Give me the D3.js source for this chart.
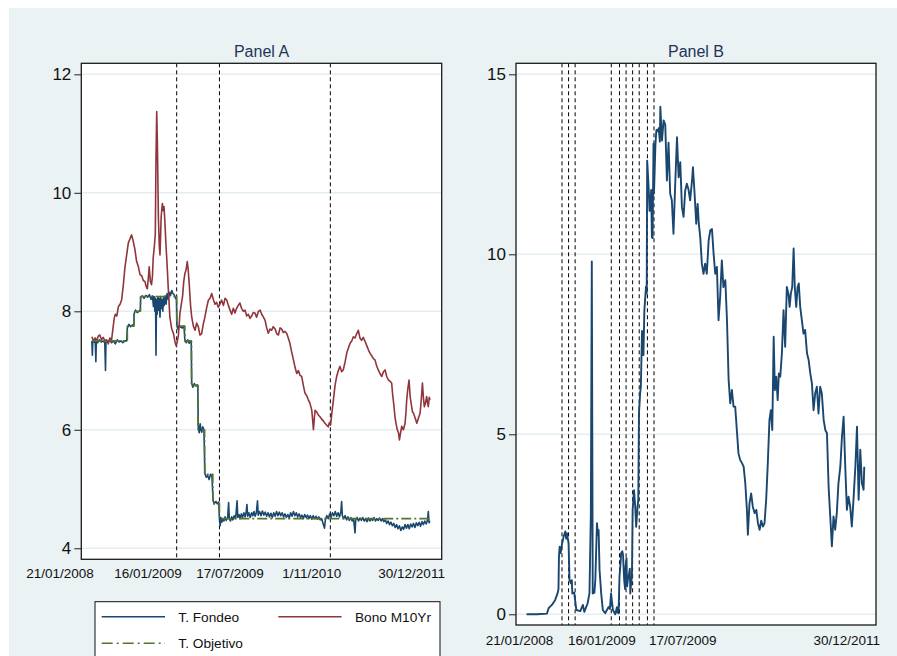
<!DOCTYPE html>
<html>
<head>
<meta charset="utf-8">
<script src="https://cdn.jsdelivr.net/npm/d3@7"></script>
<style>
  body { margin: 0; background: #fff; }
  text { font-family: "Liberation Sans", Arial, sans-serif; }
</style>
</head>
<body>
<svg id="chart"></svg>
<script>
// all x positions are days counted from 21/01/2008
const inicio = new Date(2008, 0, 21);

// Panel A: T. Fondeo [day, %]
const fondeo = [[0,7.5],[2,7.26],[4,7.5],[10,7.48],[14,7.52],[17,7.15],[19,7.5],[25,7.47],[32,7.52],[40,7.48],[48,7.5],[55,7.47],[58,7.0],[60,7.5],[68,7.48],[76,7.52],[84,7.47],[92,7.5],[100,7.45],[108,7.52],[116,7.48],[124,7.5],[132,7.47],[140,7.5],[148,7.5],[151,7.72],[158,7.78],[165,7.74],[172,7.77],[178,7.75],[180,7.96],[186,8.02],[193,7.98],[200,8.0],[206,8.02],[208,8.24],[215,8.26],[222,8.22],[230,8.27],[238,8.24],[245,8.28],[252,8.2],[258,8.26],[262,8.08],[265,8.25],[268,8.0],[271,8.22],[273,7.26],[275,8.2],[278,7.95],[281,8.25],[284,8.02],[287,8.22],[290,7.9],[293,8.25],[296,8.05],[299,8.2],[302,8.0],[305,8.23],[308,8.1],[312,8.26],[316,8.12],[320,8.3],[325,8.2],[330,8.32],[335,8.27],[340,8.35],[345,8.3],[350,8.28],[356,8.22],[360,8.2],[362,7.76],[366,7.7],[372,7.76],[378,7.73],[385,7.72],[392,7.75],[396,7.5],[402,7.47],[408,7.52],[414,7.46],[420,7.5],[423,7.48],[425,6.78],[430,6.72],[436,6.78],[442,6.74],[448,6.76],[451,6.7],[453,6.02],[457,5.95],[461,6.1],[464,6.0],[468,5.96],[472,6.05],[477,6.0],[481,5.26],[487,5.2],[493,5.23],[499,5.16],[505,5.25],[511,5.22],[516,4.8],[522,4.76],[528,4.79],[534,4.75],[540,4.78],
[543,4.5],[546,4.38],[549,4.52],[553,4.44],[557,4.5],[562,4.46],[567,4.53],[572,4.47],[578,4.52],[582,4.77],[585,4.5],[590,4.46],[595,4.53],[600,4.48],[606,4.55],[612,4.5],[618,4.8],[621,4.52],[626,4.57],[631,4.5],[636,4.58],[641,4.52],[647,4.6],[652,4.53],[657,4.62],[660,4.74],[663,4.54],[668,4.6],[674,4.52],[680,4.6],[685,4.55],[690,4.62],[695,4.54],[700,4.6],[705,4.8],[708,4.56],[714,4.62],[720,4.55],[726,4.63],[732,4.56],[738,4.61],[744,4.54],[750,4.6],[756,4.53],[762,4.59],[768,4.52],[774,4.6],[780,4.54],[786,4.62],[792,4.55],[798,4.61],[804,4.55],[810,4.6],[816,4.53],[822,4.58],[828,4.52],[834,4.57],[840,4.51],[846,4.6],[852,4.54],[858,4.62],[864,4.55],[870,4.6],[876,4.53],[882,4.58],[888,4.52],[894,4.56],[900,4.5],[906,4.57],[912,4.52],[918,4.56],[924,4.5],[930,4.55],[936,4.49],[942,4.55],[948,4.5],[954,4.54],[960,4.49],[966,4.53],[972,4.48],[978,4.5],[984,4.42],[990,4.34],[994,4.48],[1000,4.55],[1006,4.5],[1012,4.58],[1018,4.52],[1024,4.6],[1030,4.55],[1036,4.62],[1042,4.54],[1048,4.6],[1054,4.53],[1060,4.62],[1063,4.79],[1066,4.55],[1072,4.5],[1078,4.55],[1084,4.48],[1090,4.53],[1096,4.47],[1102,4.52],[1108,4.46],[1114,4.5],[1120,4.26],[1123,4.48],[1129,4.52],[1135,4.46],[1141,4.51],[1147,4.47],[1153,4.52],[1159,4.46],[1165,4.5],[1171,4.45],[1177,4.51],[1183,4.46],[1189,4.5],[1195,4.47],[1201,4.52],[1207,4.46],[1213,4.5],[1219,4.47],[1225,4.51],[1231,4.46],[1237,4.5],[1243,4.45],[1249,4.48],[1255,4.42],[1261,4.46],[1267,4.4],[1273,4.44],[1279,4.38],[1285,4.42],[1291,4.35],[1297,4.4],[1303,4.33],[1309,4.38],[1315,4.3],[1321,4.36],[1327,4.32],[1333,4.4],[1339,4.34],[1345,4.4],[1351,4.33],[1357,4.41],[1363,4.36],[1369,4.42],[1375,4.35],[1381,4.43],[1387,4.38],[1393,4.44],[1399,4.37],[1405,4.45],[1411,4.4],[1417,4.46],[1423,4.41],[1429,4.48],[1432,4.62],[1435,4.43],[1439,4.46]];

// Panel A: Bono M10Yr [day, %]
const bono = [[0,7.57],[7,7.5],[14,7.55],[20,7.5],[27,7.58],[34,7.6],[41,7.52],[48,7.56],[56,7.5],[63,7.52],[70,7.45],[77,7.55],[84,7.52],[91,7.75],[96,7.9],[100,7.95],[106,7.92],[113,8.08],[120,8.12],[127,8.2],[134,8.45],[141,8.75],[148,8.95],[155,9.15],[162,9.22],[169,9.29],[175,9.2],[183,9.05],[190,8.85],[198,8.75],[205,8.62],[212,8.6],[219,8.52],[226,8.5],[231,8.42],[236,8.38],[240,8.55],[244,8.75],[249,8.5],[254,8.45],[258,8.6],[261,8.9],[266,9.1],[270,9.3],[273,10.6],[276,11.37],[279,10.8],[283,9.6],[287,9.1],[290,8.95],[295,9.6],[300,9.82],[304,9.7],[307,9.77],[311,9.5],[315,9.15],[320,8.8],[325,8.4],[332,7.9],[340,7.7],[347,7.63],[353,7.5],[358,7.42],[363,7.48],[368,7.58],[372,7.8],[375,7.97],[380,8.1],[386,8.25],[391,8.5],[396,8.64],[401,8.7],[406,8.84],[410,8.7],[415,8.42],[420,8.1],[425,7.9],[432,7.75],[439,7.68],[446,7.8],[453,7.74],[460,7.6],[467,7.62],[474,7.78],[481,7.9],[488,8.05],[496,8.19],[503,8.22],[510,8.3],[517,8.2],[524,8.12],[531,8.15],[538,8.07],[545,8.12],[552,8.19],[560,8.1],[567,8.22],[574,8.19],[581,8.1],[588,8.02],[595,7.95],[602,8.05],[609,7.97],[616,8.05],[623,8.1],[630,8.14],[637,8.05],[645,8.0],[652,8.02],[659,7.92],[666,7.95],[673,7.88],[680,7.92],[687,7.98],[694,7.97],[701,7.9],[709,8.0],[716,8.02],[723,7.95],[730,7.9],[737,7.85],[744,7.72],[751,7.63],[758,7.7],[765,7.68],[772,7.74],[780,7.7],[787,7.62],[794,7.6],[801,7.72],[808,7.7],[815,7.64],[822,7.66],[829,7.63],[836,7.55],[843,7.46],[850,7.32],[858,7.18],[865,7.05],[872,6.95],[879,7.0],[886,6.92],[893,6.9],[900,6.75],[907,6.62],[914,6.58],[921,6.51],[928,6.45],[936,6.33],[940,6.15],[943,6.0],[947,6.2],[950,6.33],[957,6.3],[964,6.25],[971,6.22],[978,6.18],[985,6.15],[992,6.11],[999,6.08],[1006,6.05],[1011,6.12],[1016,6.08],[1022,6.3],[1028,6.5],[1035,6.75],[1042,6.9],[1049,7.0],[1056,7.07],[1063,6.98],[1070,7.01],[1078,7.15],[1085,7.3],[1092,7.38],[1099,7.46],[1106,7.5],[1113,7.57],[1120,7.55],[1127,7.62],[1134,7.68],[1141,7.55],[1148,7.51],[1155,7.56],[1163,7.49],[1170,7.42],[1177,7.35],[1184,7.29],[1191,7.25],[1198,7.2],[1205,7.18],[1212,7.08],[1219,7.01],[1226,6.95],[1234,6.9],[1241,6.98],[1248,7.01],[1255,6.9],[1262,6.84],[1269,6.82],[1276,6.79],[1280,6.6],[1283,6.5],[1287,6.35],[1290,6.22],[1295,6.1],[1300,6.0],[1305,5.95],[1309,5.83],[1314,5.95],[1319,6.06],[1326,6.0],[1333,6.11],[1337,6.3],[1340,6.5],[1345,6.7],[1350,6.84],[1355,6.55],[1361,6.39],[1365,6.3],[1369,6.28],[1376,6.2],[1383,6.11],[1390,6.2],[1397,6.28],[1402,6.5],[1407,6.79],[1411,6.55],[1415,6.39],[1420,6.45],[1425,6.56],[1429,6.45],[1432,6.39],[1436,6.55],[1439,6.5]];

// Panel A: T. Objetivo (step changes)
const objetivoFechas = ["2008-01-21","2008-06-20","2008-07-18","2008-08-15","2009-01-16","2009-02-20","2009-03-20","2009-04-17","2009-05-15","2009-06-19","2009-07-17","2011-12-30"];
const objetivoValores = [7.5, 7.75, 8.0, 8.25, 7.75, 7.5, 6.75, 6.0, 5.25, 4.75, 4.5, 4.5];

// Panel B series [day, value]
const serieB = [[0,0],[45,0],[87,0.02],[94,0.17],[108,0.26],[122,0.4],[132,0.58],[136,0.7],[138,1.6],[141,1.88],[145,1.7],[151,1.95],[158,2.16],[165,2.3],[169,2.1],[172,2.25],[179,1.97],[183,0.95],[189,0.86],[193,0.95],[195,0.58],[203,0.6],[212,0.12],[229,0.09],[240,0.26],[246,0.07],[260,0.3],[268,0.58],[274,2.8],[278,9.8],[282,0.58],[289,0.6],[293,0.95],[300,2.53],[304,2.2],[307,2.34],[311,1.23],[318,0.58],[325,0.12],[335,0.03],[349,0.2],[355,0.15],[360,0.58],[368,0.12],[378,0.0],[385,0.2],[388,0.05],[392,0.03],[396,1.05],[400,1.37],[403,1.7],[408,1.75],[411,1.65],[416,0.95],[420,0.7],[422,1.32],[426,1.56],[428,0.77],[432,0.98],[435,1.05],[440,1.27],[442,0.58],[446,0.89],[449,1.05],[452,2.9],[458,3.45],[463,2.99],[467,2.43],[473,2.99],[476,3.18],[479,5.58],[484,6.14],[487,6.33],[492,7.87],[498,7.2],[502,8.44],[509,9.11],[512,8.92],[514,12.6],[520,11.88],[524,11.21],[527,11.23],[531,11.79],[534,10.48],[537,10.45],[541,13.07],[543,11.69],[549,13.03],[553,13.44],[556,13.46],[561,13.41],[563,13.5],[568,13.13],[570,14.1],[577,13.16],[584,13.72],[591,13.6],[598,12.05],[605,13.1],[612,11.68],[619,11.5],[626,10.57],[634,12.05],[641,13.25],[648,12.14],[655,12.56],[662,11.31],[669,11.04],[676,11.77],[683,11.96],[690,11.8],[697,11.5],[705,12.05],[709,12.42],[716,11.68],[723,10.85],[729,11.4],[734,10.85],[740,10.48],[747,9.74],[754,9.46],[761,9.74],[768,9.46],[776,10.39],[783,10.67],[790,10.7],[797,10.02],[804,9.46],[811,9.65],[818,8.17],[825,8.82],[832,9.83],[839,9.09],[847,9.28],[854,8.17],[861,6.51],[868,5.86],[875,6.23],[882,5.77],[889,5.77],[896,5.12],[903,4.47],[910,4.29],[918,4.2],[925,4.1],[932,3.64],[939,2.9],[943,2.21],[950,3.09],[957,3.36],[964,2.99],[972,2.81],[979,2.9],[986,2.53],[993,2.35],[1000,2.6],[1007,2.44],[1014,2.53],[1021,3.18],[1028,4.2],[1035,5.4],[1041,5.67],[1047,5.12],[1053,7.71],[1058,6.23],[1064,6.6],[1070,5.95],[1075,6.69],[1081,6.6],[1088,7.25],[1095,8.45],[1102,7.43],[1109,9.09],[1116,8.9],[1121,8.54],[1126,8.9],[1132,9.09],[1138,10.16],[1143,9.09],[1149,8.54],[1155,9.09],[1160,9.19],[1166,8.54],[1173,8.17],[1180,7.8],[1187,7.9],[1195,7.25],[1202,7.06],[1209,6.69],[1216,6.41],[1223,5.67],[1230,6.14],[1237,6.32],[1244,5.58],[1251,6.32],[1258,6.14],[1266,5.4],[1273,5.12],[1280,5.03],[1287,3.55],[1294,2.72],[1301,1.89],[1308,2.72],[1315,2.35],[1322,2.81],[1329,3.64],[1337,4.1],[1344,4.94],[1351,5.49],[1358,4.1],[1365,2.9],[1372,3.27],[1379,2.99],[1386,2.44],[1393,3.18],[1401,4.1],[1408,5.21],[1415,3.18],[1422,4.57],[1429,3.64],[1436,3.46],[1439,4.1]];

// vertical event lines
const eventosA = ["2009-01-16", "2009-07-17", "2010-11-01"];
const eventosB = ["2008-06-20","2008-07-18","2008-08-15","2009-01-16","2009-02-20","2009-03-20","2009-04-17","2009-05-15","2009-06-19","2009-07-17"];

// axis labels (x label anchors in days from 21/01/2008)
const etiquetasA = ["21/01/2008", "16/01/2009", "17/07/2009", "1/11/2010", "30/12/2011"];
const posEtiquetasA = [-136, 239, 588, 936, 1361];
const etiquetasB = ["21/01/2008", "16/01/2009", "17/07/2009", "30/12/2011"];
const posEtiquetasB = [-30, 321, 666, 1364];
const ticksA = [4, 6, 8, 10, 12];
const ticksB = [0, 5, 10, 15];

const width = 897, height = 656;
const navy = "#1a476f", maroon = "#90353b", green = "#55752f";

const dia = (d) => d3.timeDay.offset(inicio, d);
const parse = d3.timeParse("%Y-%m-%d");

const svg = d3.select("#chart").attr("width", width).attr("height", height);

svg.append("rect")
  .attr("x", 9).attr("y", 8)
  .attr("width", width - 9).attr("height", height - 8)
  .attr("fill", "#eaf2f3");

function panel(p) {
  const x = d3.scaleTime()
    .domain([dia(-45), dia(1489)])
    .range([p.left, p.right]);
  const y = d3.scaleLinear().domain(p.yDomain).range([p.bottom, p.top]);

  const g = svg.append("g");

  g.append("rect")
    .attr("x", p.left).attr("y", p.top)
    .attr("width", p.right - p.left).attr("height", p.bottom - p.top)
    .attr("fill", "#fff");

  // gridlines
  g.append("g")
    .selectAll("line")
    .data(p.ticks)
    .join("line")
    .attr("x1", p.left).attr("x2", p.right)
    .attr("y1", (d) => y(d)).attr("y2", (d) => y(d))
    .attr("stroke", "#e4eef0")
    .attr("stroke-width", 1.5);

  // y axis
  g.append("g")
    .attr("transform", `translate(${p.left},0)`)
    .call(d3.axisLeft(y).tickValues(p.ticks).tickSize(7).tickPadding(3))
    .call((a) => a.select(".domain").remove())
    .call((a) => a.selectAll("line").attr("stroke", "#222"))
    .call((a) =>
      a.selectAll("text")
        .attr("font-size", 17)
        .attr("fill", "#111")
        .attr("font-family", "Liberation Sans, Arial, sans-serif")
    );

  // dashed vertical lines
  g.append("g")
    .selectAll("line")
    .data(p.eventos)
    .join("line")
    .attr("x1", (d) => x(parse(d))).attr("x2", (d) => x(parse(d)))
    .attr("y1", p.top).attr("y2", p.bottom)
    .attr("stroke", "#000")
    .attr("stroke-width", 1)
    .attr("stroke-dasharray", "4,3");

  // series
  p.series.forEach((s) => {
    const line = d3.line()
      .x((d) => x(s.fecha(d)))
      .y((d) => y(d.v))
      .curve(s.curve || d3.curveLinear);
    g.append("path")
      .datum(s.data)
      .attr("d", line)
      .attr("fill", "none")
      .attr("stroke", s.color)
      .attr("stroke-width", s.width)
      .attr("stroke-linejoin", "round")
      .attr("stroke-dasharray", s.dash || null);
  });

  // frame
  g.append("rect")
    .attr("x", p.left).attr("y", p.top)
    .attr("width", p.right - p.left).attr("height", p.bottom - p.top)
    .attr("fill", "none")
    .attr("stroke", "#1a1a1a")
    .attr("stroke-width", 1.3);

  // title
  g.append("text")
    .attr("x", (p.left + p.right) / 2)
    .attr("y", 56.5)
    .attr("text-anchor", "middle")
    .attr("font-size", 16)
    .attr("fill", "#243458")
    .text(p.title);

  // x labels
  g.append("g")
    .selectAll("text")
    .data(p.etiquetas)
    .join("text")
    .attr("x", (d, i) => x(dia(p.posEtiquetas[i])))
    .attr("y", p.labelY)
    .attr("text-anchor", "middle")
    .attr("font-size", 13.5)
    .attr("fill", "#111")
    .text((d) => d);
}

const porDia = (d) => dia(d.t);
const toObj = (arr) => arr.map(([t, v]) => ({ t, v }));

panel({
  left: 81.3, right: 441.7, top: 63.3, bottom: 559.3,
  yDomain: [3.814, 12.186],
  ticks: ticksA,
  eventos: eventosA,
  etiquetas: etiquetasA,
  posEtiquetas: posEtiquetasA,
  labelY: 578,
  title: "Panel A",
  series: [
    { data: toObj(fondeo), fecha: porDia, color: navy, width: 1.6 },
    { data: toObj(bono), fecha: porDia, color: maroon, width: 1.6 },
    {
      data: objetivoFechas.map((f, i) => ({ f, v: objetivoValores[i] })),
      fecha: (d) => parse(d.f),
      color: green, width: 1.6, dash: "10,3,2,3",
      curve: d3.curveStepAfter,
    },
  ],
});

panel({
  left: 516, right: 876, top: 63.3, bottom: 625,
  yDomain: [-0.297, 15.306],
  ticks: ticksB,
  eventos: eventosB,
  etiquetas: etiquetasB,
  posEtiquetas: posEtiquetasB,
  labelY: 645,
  title: "Panel B",
  series: [
    { data: toObj(serieB), fecha: porDia, color: navy, width: 1.9 },
  ],
});

// legend
const legend = svg.append("g").attr("id", "legend");
legend.append("rect")
  .attr("x", 95).attr("y", 601.7)
  .attr("width", 345).attr("height", 70)
  .attr("fill", "#fff")
  .attr("stroke", "#111")
  .attr("stroke-width", 1);

const items = [
  { label: "T. Fondeo", color: navy, x: 101.7, y: 616.7 },
  { label: "Bono M10Yr", color: maroon, x: 278.3, y: 616.7 },
  { label: "T. Objetivo", color: green, x: 101.7, y: 643.3, dash: "11,4,2,4" },
];

items.forEach((it) => {
  legend.append("line")
    .attr("x1", it.x).attr("x2", it.x + 63.3)
    .attr("y1", it.y).attr("y2", it.y)
    .attr("stroke", it.color)
    .attr("stroke-width", 1.6)
    .attr("stroke-dasharray", it.dash || null);
  legend.append("text")
    .attr("x", it.x + 76.6)
    .attr("y", it.y)
    .attr("dy", "0.36em")
    .attr("font-size", 13.7)
    .attr("fill", "#111")
    .text(it.label);
});
</script>
</body>
</html>
